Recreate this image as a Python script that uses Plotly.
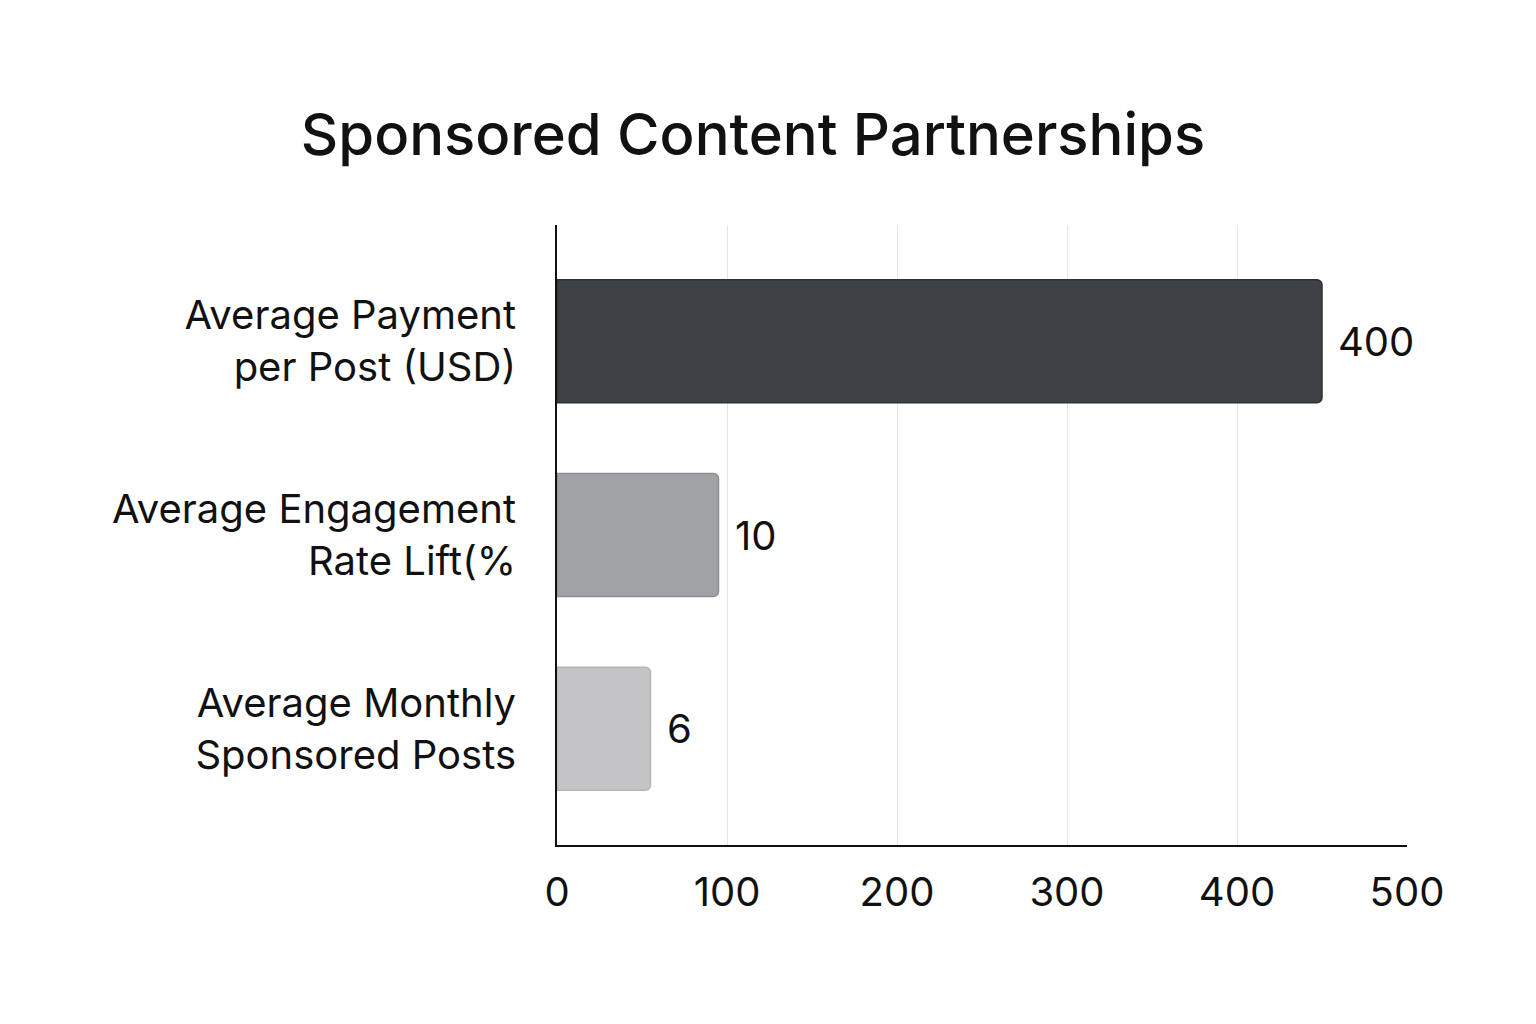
import plotly.graph_objects as go

categories = ["Average Payment<br>per Post (USD)",
              "Average Engagement<br>Rate Lift(%",
              "Average Monthly<br>Sponsored Posts"]
bar_lengths = [450, 95, 55]          # drawn lengths as read against the x axis
value_labels = ["400", "10", "6"]    # labels printed beside the bars
bar_colors = ["#3e4146", "#a1a2a5", "#c4c4c6"]
line_colors = ["#2e3034", "#8e8f92", "#b5b5b8"]
x_ticks = [0, 100, 200, 300, 400, 500]

FONT = "Inter"

fig = go.Figure(go.Bar(
    y=categories, x=bar_lengths, orientation="h",
    marker=dict(color=bar_colors, line=dict(color=line_colors, width=1.5), cornerradius=5),
    width=0.635, cliponaxis=False,
))

for cat, length, lab in zip(categories, bar_lengths, value_labels):
    fig.add_annotation(x=length, y=cat, text=lab, showarrow=False, xanchor="left",
                       xshift=14, yanchor="middle",
                       font=dict(family=FONT, size=40, color="#111111"))

fig.update_layout(
    width=1536, height=1024,
    paper_bgcolor="white", plot_bgcolor="white",
    margin=dict(l=549, r=137, t=217, b=187),
    title=dict(text="Sponsored Content Partnerships", x=745 / 1536, xanchor="center",
               y=1 - 127 / 1024, yanchor="middle",
               font=dict(family=FONT, size=58, color="#111111", weight=500)),
    showlegend=False,
)
fig.update_xaxes(range=[0, 500], tickvals=x_ticks, showgrid=True, gridcolor="#e6e6e6", gridwidth=1,
                 showline=True, linecolor="#111111", linewidth=2, zeroline=False,
                 tickfont=dict(family=FONT, size=40, color="#111111"), ticks="",
                 ticklabelstandoff=11)
fig.update_yaxes(range=[2.6, -0.6], showgrid=False, showline=True, linecolor="#111111", linewidth=2,
                 tickfont=dict(family=FONT, size=40, color="#111111"), ticks="",
                 ticklabelstandoff=31)

fig.write_html("out.html")
